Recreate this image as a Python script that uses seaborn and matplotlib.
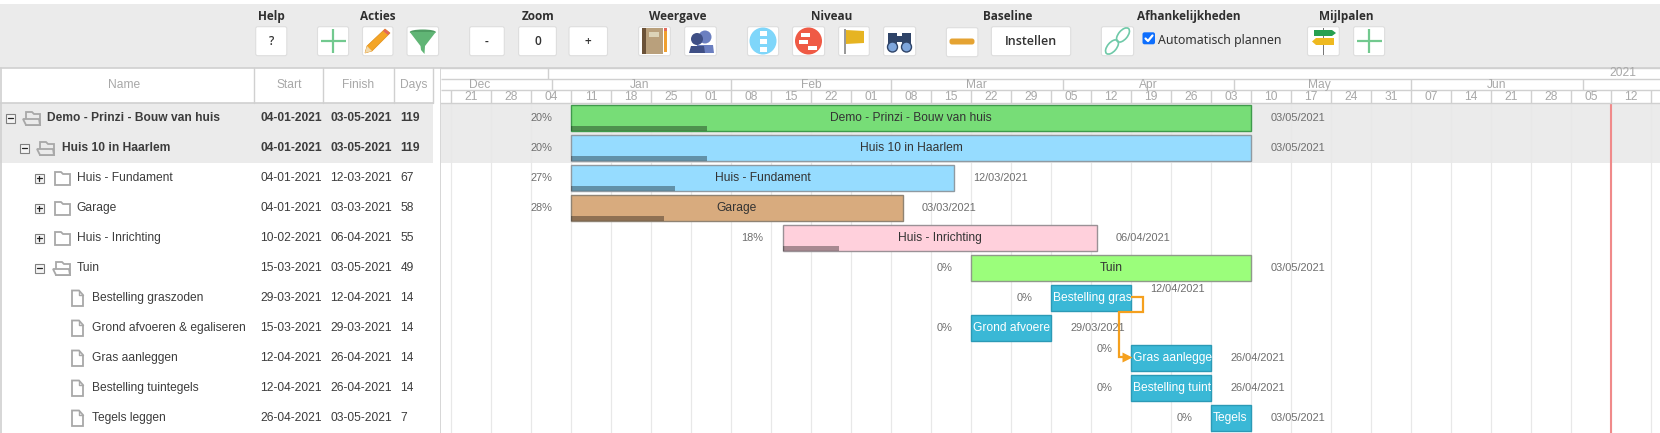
import matplotlib
matplotlib.use("Agg")
import numpy as np
import pandas as pd
import seaborn as sns
import matplotlib.pyplot as plt
import matplotlib.dates as mdates
from matplotlib.patches import Rectangle, Polygon, Circle, FancyBboxPatch, Ellipse

sns.set_theme(style="white")
plt.rcParams['font.family'] = ['Liberation Sans', 'DejaVu Sans']

# ------------------ data ------------------
names = ["Demo - Prinzi - Bouw van huis", "Huis 10 in Haarlem", "Huis - Fundament", "Garage",
         "Huis - Inrichting", "Tuin", "Bestelling graszoden", "Grond afvoeren & egaliseren",
         "Gras aanleggen", "Bestelling tuintegels", "Tegels leggen"]
bar_labels = ["Demo - Prinzi - Bouw van huis", "Huis 10 in Haarlem", "Huis - Fundament", "Garage",
              "Huis - Inrichting", "Tuin", "Bestelling gras", "Grond afvoere",
              "Gras aanlegge", "Bestelling tuint", "Tegels"]
starts = ["2021-01-04", "2021-01-04", "2021-01-04", "2021-01-04", "2021-02-10", "2021-03-15",
          "2021-03-29", "2021-03-15", "2021-04-12", "2021-04-12", "2021-04-26"]
finishes = ["2021-05-03", "2021-05-03", "2021-03-12", "2021-03-03", "2021-04-06", "2021-05-03",
            "2021-04-12", "2021-03-29", "2021-04-26", "2021-04-26", "2021-05-03"]
days = [119, 119, 67, 58, 55, 49, 14, 14, 14, 14, 7]
progress = [20, 20, 27, 28, 18, 0, 0, 0, 0, 0, 0]
levels = [0, 1, 2, 2, 2, 2, 3, 3, 3, 3, 3]
week_labels = ["21", "28", "04", "11", "18", "25", "01", "08", "15", "22", "01", "08", "15", "22",
               "29", "05", "12", "19", "26", "03", "10", "17", "24", "31", "07", "14", "21", "28",
               "05", "12"]
month_labels = ["Dec", "Jan", "Feb", "Mar", "Apr", "May", "Jun"]
month_label_dates = ["2020-12-19", "2021-01-16", "2021-02-15", "2021-03-16", "2021-04-15", "2021-05-15", "2021-06-15"]
month_edges = ["2020-12-31 16:00", "2021-02-01 00:00", "2021-03-01 00:00", "2021-03-31 00:00",
               "2021-04-30 00:00", "2021-05-31 00:00", "2021-06-30 00:00"]
year_edge = "2020-12-31"
today = "2021-07-05"
bar_colors = ["#77dd77", "#96dcff", "#96dcff", "#d8ab7e", "#ffd0dc", "#9bfe7b",
              "#3ab8d6", "#3ab8d6", "#3ab8d6", "#3ab8d6", "#3ab8d6"]
edge_colors = ["#3f9a4c", "#8f9aa2", "#8f9aa2", "#8f8373", "#9a9196", "#8f9a8a",
               "#2b9ab6", "#2b9ab6", "#2b9ab6", "#2b9ab6", "#2b9ab6"]
toolbar_titles = ["Help", "Acties", "Zoom", "Weergave", "Niveau", "Baseline", "Afhankelijkheden", "Mijlpalen"]
toolbar_title_x = [271, 378, 538.6, 677.5, 831.4, 1008, 1189, 1346]

df = pd.DataFrame({"name": names, "start": pd.to_datetime(starts), "finish": pd.to_datetime(finishes)})
df["s"] = mdates.date2num(df["start"])
df["f"] = mdates.date2num(df["finish"])
df["dur"] = df["f"] - df["s"]

# ------------------ figure ------------------
W, H = 1660, 433
fig = plt.figure(figsize=(W / 100, H / 100), dpi=100, facecolor="white")
GREY = "#ebebeb"
LINE = "#d0d0d0"
HDR = "#a8a8a8"
TXT = "#3c3c3c"
FS = 8.64
FS_SIDE = 7.92
TB_FONT = "Open Sans"

# page-level overlay in pixel units
pg = fig.add_axes([0, 0, 1, 1], zorder=0)
pg.set_xlim(0, W); pg.set_ylim(H, 0); pg.axis("off")
pg.add_patch(Rectangle((0, 4), W, 63.5, fc=GREY, ec="none"))
pg.plot([0, W], [67.5, 67.5], color=LINE, lw=1.2)


def button(x0, x1, y0=26.7, y1=55.7):
    pg.add_patch(FancyBboxPatch((x0 + 1, y0 + 1), x1 - x0 - 2, y1 - y0 - 2, boxstyle="round,pad=1,rounding_size=2",
                                fc="white", ec="#dedede", lw=0.8))


def btn_text(x0, x1, s, fs=8.6):
    button(x0, x1)
    pg.text((x0 + x1) / 2, 41.5, s, ha="center", va="center", fontsize=fs, color="#333333",
            family=TB_FONT, fontweight="semibold")


for t, x in zip(toolbar_titles, toolbar_title_x):
    pg.text(x, 16.7, t, ha="center", va="center", fontsize=8.5, fontweight="bold", color="#2f2f2f", family=TB_FONT)


def plus(cx):
    pg.plot([cx - 12.5, cx + 12.5], [41, 41], color="#72c98f", lw=1.6, solid_capstyle="butt")
    pg.plot([cx, cx], [28.5, 53], color="#72c98f", lw=1.6, solid_capstyle="butt")


btn_text(255.7, 286.8, "?")
button(317.5, 348.6); plus(333)
button(362.5, 393)
pg.add_patch(Polygon([[385, 29], [390, 33], [372, 51], [365, 53], [367, 46]], fc="#f4a526", ec="#e08e16", lw=0.5))
pg.add_patch(Polygon([[385, 29], [390, 33], [388, 35], [383, 31]], fc="#e2685b", ec="none"))
pg.add_patch(Polygon([[367, 46], [372, 51], [365, 53]], fc="#f1d9ad", ec="none"))
button(407, 438.6)
pg.add_patch(Ellipse((422.8, 32), 26, 5, fc="#4f9d63", ec="none"))
pg.add_patch(Polygon([[409.8, 32], [435.8, 32], [425, 46], [424.5, 54], [421, 50], [420.5, 46]], fc="#60b575", ec="none"))
btn_text(469.6, 504.3, "-")
btn_text(518.6, 556.4, "0")
btn_text(569, 607.5, "+")
button(638.6, 670.4)
pg.add_patch(Rectangle((642, 28), 4, 26, fc="#6b5238", ec="none"))
pg.add_patch(Rectangle((646, 28), 17, 26, fc="#b9a07c", ec="none"))
pg.add_patch(Rectangle((649, 32), 10, 5, fc="#dcd3b8", ec="none"))
pg.add_patch(Rectangle((664, 30), 3.4, 22, fc="#f0a030", ec="none"))
pg.add_patch(Rectangle((664, 28), 3.4, 3, fc="#e2685b", ec="none"))
button(684.6, 716.4)
pg.add_patch(Circle((705, 37), 6.5, fc="#6b7fc0", ec="none"))
pg.add_patch(Polygon([[695, 53], [697, 45], [713, 45], [714, 53]], fc="#6b7fc0", ec="none"))
pg.add_patch(Circle((697, 39), 6, fc="#3f4f85", ec="none"))
pg.add_patch(Polygon([[689, 53], [691, 46], [704, 46], [705, 53]], fc="#3f4f85", ec="none"))
button(747.5, 778.6)
pg.add_patch(Circle((763, 41), 13.5, fc="#7fd6fa", ec="none"))
for yy in (33, 41, 49):
    pg.add_patch(Rectangle((759.5, yy - 2.5), 7, 5, fc="white", ec="none"))
button(792.5, 824.6)
pg.add_patch(Circle((808.5, 41), 13.5, fc="#ef5a45", ec="none"))
for xx, yy in ((805, 34.5), (803, 41.5), (812, 47.5)):
    pg.add_patch(Rectangle((xx - 4.5, yy - 2), 9, 4, fc="white", ec="none"))
button(838.6, 869.3)
pg.add_patch(Rectangle((844, 29), 2, 25, fc="#9a9a9a", ec="none"))
pg.add_patch(Polygon([[846, 30], [864, 31], [864, 43], [846, 44]], fc="#e6b422", ec="none"))
button(883.6, 915.7)
pg.add_patch(Rectangle((888, 33), 9, 16, fc="#2f4468", ec="none"))
pg.add_patch(Rectangle((902, 33), 9, 16, fc="#2f4468", ec="none"))
pg.add_patch(Rectangle((896, 36), 7, 6, fc="#2f4468", ec="none"))
pg.add_patch(Circle((892.5, 47), 5, fc="#7ea6dc", ec="#2f4468", lw=1))
pg.add_patch(Circle((906.5, 47), 5, fc="#7ea6dc", ec="#2f4468", lw=1))
button(946.4, 977.9, 27.7, 56.7)
pg.add_patch(FancyBboxPatch((951, 40), 22, 3, boxstyle="round,pad=1.5,rounding_size=2.5", fc="#e5a332", ec="none"))
btn_text(991.4, 1070.7, "Instellen", 9.0)
button(1101.4, 1133.6)
for cx, cy in ((1123, 35), (1112, 47)):
    pg.add_patch(Ellipse((cx, cy), 9, 17, angle=40, fc="none", ec="#6fc9a8", lw=1.2))
pg.add_patch(FancyBboxPatch((1143.5, 33.3), 10.5, 10, boxstyle="round,pad=1,rounding_size=2", fc="#0d6efd", ec="none"))
pg.plot([1145.5, 1148, 1152.5], [38.5, 41, 35.5], color="white", lw=1.6)
pg.text(1157.5, 40.5, "Automatisch plannen", ha="left", va="center", fontsize=8.9, color="#333333", family="Noto Sans")
button(1307.5, 1339.3)
pg.add_patch(Rectangle((1322.5, 28), 1.5, 27, fc="#777777", ec="none"))
pg.add_patch(Polygon([[1314, 30], [1332, 30], [1336, 33], [1332, 36], [1314, 36]], fc="#27a050", ec="none"))
pg.add_patch(Polygon([[1316, 38], [1334, 38], [1334, 45], [1316, 45], [1312, 41.5]], fc="#eeb920", ec="none"))
button(1353.6, 1384.6); plus(1369)

# table
pg.add_patch(Rectangle((0, 103), 433, 60, fc=GREY, ec="none"))
pg.plot([0.5, 0.5], [67.5, H], color=LINE, lw=1.2)
pg.plot([0, 433], [102.5, 102.5], color=LINE, lw=1.2)
for x in (253.6, 323, 393.6, 433):
    pg.plot([x, x], [67.5, 102.5], color=LINE, lw=1)
pg.plot([441, 441], [67.5, H], color=LINE, lw=1.2)
for s, cx in zip(["Name", "Start", "Finish", "Days"], [124, 289, 358.5, 413.5]):
    pg.text(cx, 85, s, ha="center", va="center", fontsize=FS, color=HDR)

row_y = 118
for i, n in enumerate(names):
    cy = row_y + 30 * i
    lv = levels[i]
    bold = i < 2
    w = "bold" if bold else "normal"
    if lv < 3:
        ex = 10 + 14.5 * lv if lv < 2 else 39
        fx = 32 + 14 * lv if lv < 2 else 62
        tx = 46.8 + 15 * lv if lv < 2 else 76.7
        pg.add_patch(Rectangle((ex - 4.5, cy - 4.5), 9, 9, fc="#f4f4f4", ec="#808080", lw=0.8))
        pg.plot([ex - 2.5, ex + 2.5], [cy, cy], color="#222222", lw=0.9)
        opened = i in (0, 1, 5)
        if not opened:
            pg.plot([ex, ex], [cy - 2.5, cy + 2.5], color="#222222", lw=0.9)
            pg.add_patch(Polygon([[fx - 7, cy + 7], [fx - 7, cy - 6], [fx - 1, cy - 6], [fx + 1, cy - 4],
                                  [fx + 8, cy - 4], [fx + 8, cy + 7]], fc="none", ec="#a8a8a8", lw=1.3))
        else:
            pg.add_patch(Polygon([[fx - 6, cy + 7], [fx - 6, cy - 6], [fx, cy - 6], [fx + 2, cy - 4],
                                  [fx + 8, cy - 4], [fx + 8, cy + 7]], fc="none", ec="#a8a8a8", lw=1.3))
            pg.add_patch(Polygon([[fx - 9, cy + 1], [fx + 7, cy + 1], [fx + 8, cy + 7], [fx - 6, cy + 7]],
                                 fc=GREY if bold else "white", ec="#a8a8a8", lw=1.3))
    else:
        tx = 91.7
        fx = 77
        pg.add_patch(Polygon([[fx - 5, cy - 7.5], [fx + 2, cy - 7.5], [fx + 6, cy - 3], [fx + 6, cy + 8],
                              [fx - 5, cy + 8]], fc="none", ec="#a8a8a8", lw=1.3))
        pg.plot([fx + 2, fx + 2, fx + 6], [cy - 7.5, cy - 3, cy - 3], color="#a8a8a8", lw=1)
    pg.text(tx, cy, n, ha="left", va="center", fontsize=FS, color=TXT, fontweight=w)
    pg.text(260.5, cy, df["start"][i].strftime("%d-%m-%Y"), ha="left", va="center", fontsize=FS, color=TXT, fontweight=w)
    pg.text(330.5, cy, df["finish"][i].strftime("%d-%m-%Y"), ha="left", va="center", fontsize=FS, color=TXT, fontweight=w)
    pg.text(400.5, cy, str(days[i]), ha="left", va="center", fontsize=FS, color=TXT, fontweight=w)

# ------------------ gantt axes ------------------
X0, X1 = 441, 1660
Y0, Y1 = 103, 433
PXDAY = 40 / 7
x_left = mdates.date2num(pd.Timestamp("2021-01-04")) + (X0 - 571.2) / PXDAY
x_right = x_left + (X1 - X0) / PXDAY

ax = fig.add_axes([X0 / W, 1 - Y1 / H, (X1 - X0) / W, (Y1 - Y0) / H], zorder=2)
ax.set_facecolor("white")
sns.barplot(data=df, x="dur", y="name", left=df["s"].values, color="#999999", ax=ax, orient="y",
            width=25.4 / 30, errorbar=None, legend=False)
for p, fc, ec in zip(ax.patches, bar_colors, edge_colors):
    p.set_facecolor(fc); p.set_edgecolor(ec); p.set_linewidth(1.0); p.set_zorder(2)
ax.set_xlim(x_left, x_right)
ax.set_ylim(10.5, -0.5)
ax.set_xlabel(""); ax.set_ylabel("")
ax.set_yticks([]); ax.tick_params(axis="x", length=0, labelbottom=False)
for s in ax.spines.values():
    s.set_visible(False)
ax.axhspan(-0.5, 1.5, color=GREY, lw=0, zorder=0)

# week cells: one gridline per week
cell0 = mdates.date2num(pd.Timestamp("2020-12-14"))
edges = cell0 + 7 * np.arange(len(week_labels) + 1)
ax.vlines(edges, -0.5, 10.5, color="#e8e8e8", lw=0.9, zorder=0.5)
ax.axvline(mdates.date2num(pd.Timestamp(today)), color="#f08a8a", lw=1.5, zorder=3)

# progress strips
hh = 25.4 / 30
strip = 4.7 / 30
for i in range(len(names)):
    if progress[i] > 0:
        ax.barh(i + hh / 2 - strip, df["dur"][i] * progress[i] / 100, height=strip, left=df["s"][i],
                align="edge", color="black", alpha=0.34, lw=0, zorder=2.5)

# labels next to bars
pct_dy = {8: -9 / 30}
date_dy = {6: -9 / 30}
off = 19 / PXDAY
for i in range(len(names)):
    ax.text(df["s"][i] - off, i + pct_dy.get(i, 0), f"{progress[i]}%", ha="right", va="center", fontsize=FS_SIDE,
            color="#6e6e6e", zorder=4)
    ax.text(df["f"][i] + off, i + date_dy.get(i, 0), df["finish"][i].strftime("%d/%m/%Y"), ha="left", va="center",
            fontsize=FS_SIDE, color="#6e6e6e", zorder=4)
    if i < 6:
        ax.text((df["s"][i] + df["f"][i]) / 2, i, bar_labels[i], ha="center", va="center", fontsize=FS,
                color="#333333", zorder=4)
    else:
        ax.text(df["s"][i] + 1.5 / PXDAY, i, bar_labels[i], ha="left", va="center", fontsize=FS,
                color="white", zorder=4)

# dependency connector
d0 = df["f"][6]
conn_x = [d0, d0 + 12 / PXDAY, d0 + 12 / PXDAY, d0 - 12 / PXDAY, d0 - 12 / PXDAY, d0 - 4 / PXDAY]
conn_y = [6 - 0.02, 6 - 0.02, 6 + 0.46, 6 + 0.46, 8 - 0.02, 8 - 0.02]
ax.plot(conn_x, conn_y, color="#f5a01e", lw=1.6, zorder=5, solid_joinstyle="miter", solid_capstyle="butt")
ax.plot([d0 - 4 / PXDAY], [8 - 0.02], marker=">", ms=6.5, color="#f5a01e", mec="none", zorder=5)

# ------------------ timeline header ------------------
hd = fig.add_axes([X0 / W, 1 - 103 / H, (X1 - X0) / W, 35.5 / H], zorder=3, sharex=ax)
hd.set_facecolor("white")
hd.set_ylim(35.5, 0)
hd.set_yticks([])
hd.tick_params(axis="x", which="both", length=0, labelbottom=False)
for s in hd.spines.values():
    s.set_color(LINE); s.set_linewidth(1)
hd.spines["left"].set_visible(False)
hd.spines["right"].set_visible(False)
hd.hlines([11.5, 22.5], x_left, x_right, color=LINE, lw=1)
hd.vlines(edges, 22.5, 35.5, color=LINE, lw=1)
for i, w in enumerate(week_labels):
    hd.text(edges[i] + 3.5, 29.3, w, ha="center", va="center", fontsize=FS, color=HDR)
me = mdates.date2num(pd.to_datetime(month_edges))
hd.vlines(me, 11.5, 22.5, color=LINE, lw=1)
for m, d in zip(month_labels, mdates.date2num(pd.to_datetime(month_label_dates))):
    hd.text(d, 17.8, m, ha="center", va="center", fontsize=FS, color=HDR)
hd.vlines([mdates.date2num(pd.Timestamp(year_edge))], 0, 11.5, color=LINE, lw=1)
hd.text(mdates.date2num(pd.Timestamp("2021-07-07")), 6, "2021", ha="center", va="center", fontsize=FS, color=HDR)

fig.savefig("out.png", dpi=100)
